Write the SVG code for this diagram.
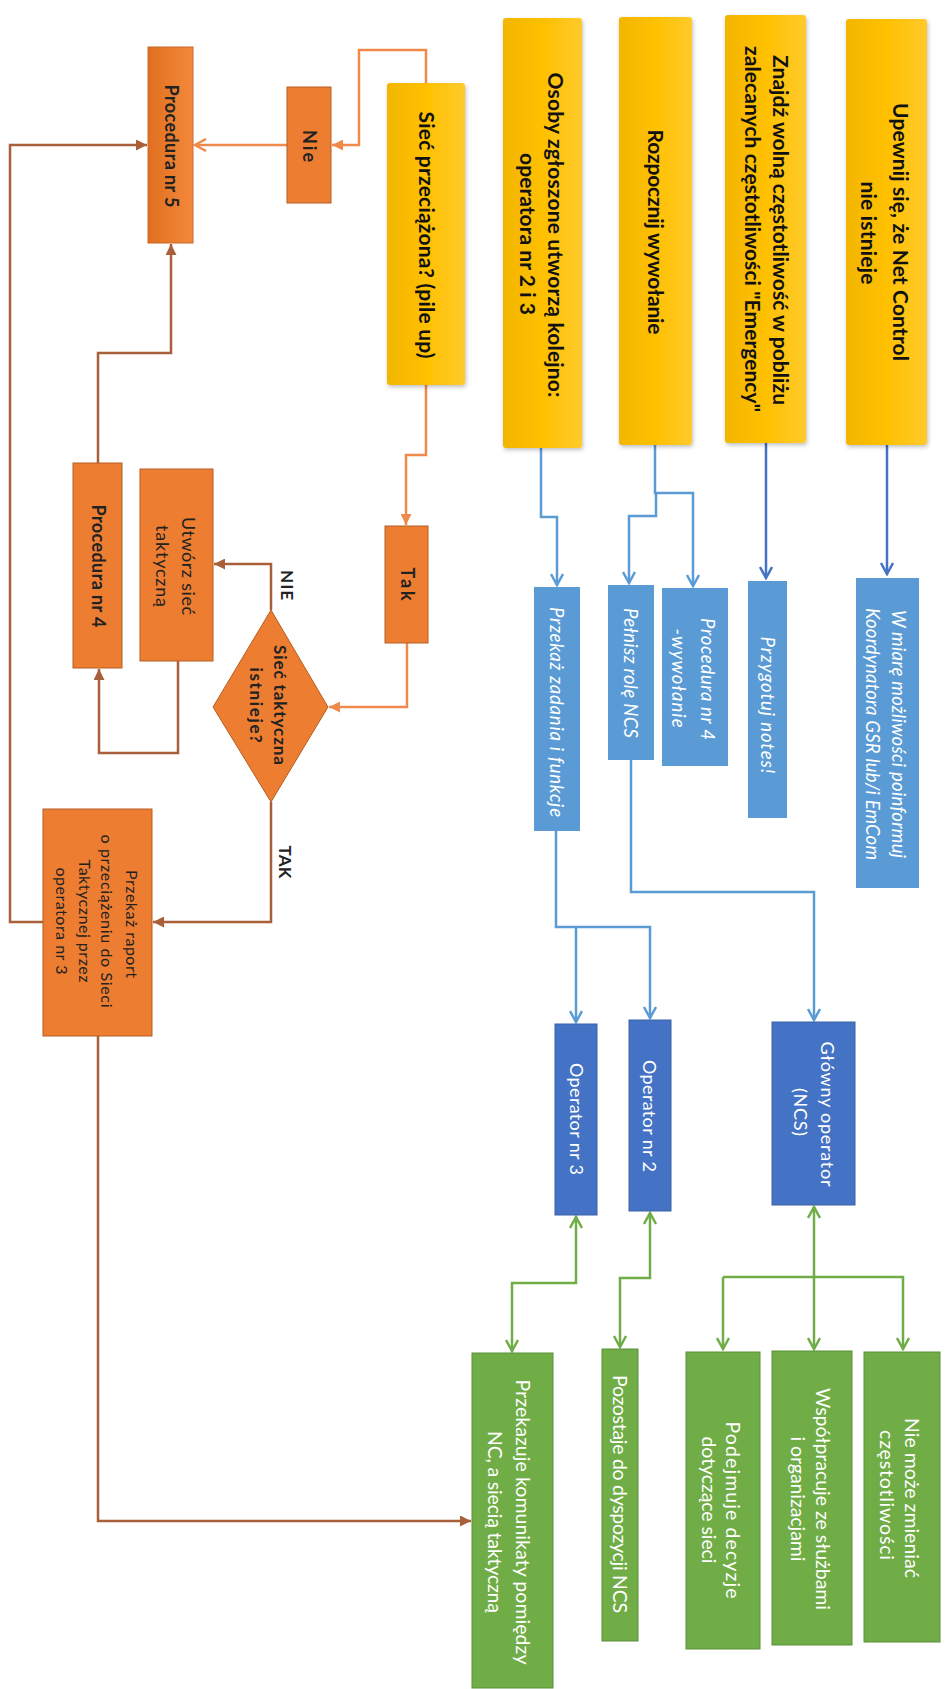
<svg xmlns="http://www.w3.org/2000/svg" width="945" height="1689" viewBox="0 0 945 1689">
<style>
.t{font-family:Lato,"Open Sans","Liberation Sans",sans-serif;text-anchor:middle}
.yb{font-weight:bold;font-size:21px;fill:#111}
.it{font-style:italic;font-size:18.5px;fill:#fff}
.wt{font-size:18px;fill:#fff}
.gt{font-size:19.5px;fill:#fff}
.ob{font-weight:bold;font-size:18px;fill:#222}
.or{font-size:18px;fill:#222}
.sm{font-size:16px;fill:#222}
.lb{font-weight:bold;font-size:17px;fill:#222}
.yel{fill:url(#gy);filter:url(#sh)}
.lblue{fill:#5B9BD5}
.dblue{fill:#4472C4;stroke:#3A62A8;stroke-width:1}
.grn{fill:#70AD47;stroke:#5A8F38;stroke-width:1}
.org{fill:#ED7D31;stroke:#B45F24;stroke-width:1}
.c{fill:none;stroke-width:2.5}
.nv{stroke:#4472C4;marker-end:url(#an)}
.lt{stroke:#5B9BD5;marker-end:url(#al)}
.gr{stroke:#70AD47;marker-end:url(#ag)}
.gb{stroke:#70AD47;marker-start:url(#ag);marker-end:url(#ag)}
.oo{stroke:#F08A4B}
.br{stroke:#A9603A}
</style>
<defs>
<linearGradient id="gy" x1="0" y1="0" x2="1" y2="0">
<stop offset="0" stop-color="#F2B600"/><stop offset="0.5" stop-color="#FFC000"/><stop offset="1" stop-color="#FFCA2C"/>
</linearGradient>
<linearGradient id="go" x1="0" y1="0" x2="1" y2="0">
<stop offset="0" stop-color="#E0701F"/><stop offset="1" stop-color="#F4883C"/>
</linearGradient>
<filter id="sh" x="-10%" y="-5%" width="125%" height="112%">
<feDropShadow dx="1" dy="2" stdDeviation="2" flood-color="#000" flood-opacity="0.25"/>
</filter>
<marker id="an" viewBox="0 0 14 14" refX="12" refY="7" markerWidth="14" markerHeight="14" markerUnits="userSpaceOnUse" orient="auto-start-reverse"><path d="M1,1 L12,7 L1,13" fill="none" stroke="#4472C4" stroke-width="2.5"/></marker>
<marker id="al" viewBox="0 0 14 14" refX="12" refY="7" markerWidth="14" markerHeight="14" markerUnits="userSpaceOnUse" orient="auto-start-reverse"><path d="M1,1 L12,7 L1,13" fill="none" stroke="#5B9BD5" stroke-width="2.5"/></marker>
<marker id="ag" viewBox="0 0 14 14" refX="12" refY="7" markerWidth="14" markerHeight="14" markerUnits="userSpaceOnUse" orient="auto-start-reverse"><path d="M1,1 L12,7 L1,13" fill="none" stroke="#70AD47" stroke-width="2.5"/></marker>
<marker id="ao" viewBox="0 0 14 14" refX="12" refY="7" markerWidth="14" markerHeight="14" markerUnits="userSpaceOnUse" orient="auto"><path d="M1,1 L12,7 L1,13" fill="none" stroke="#F08A4B" stroke-width="2.5"/></marker>
<marker id="to" viewBox="0 0 10 10" refX="10" refY="5" markerWidth="11" markerHeight="11" markerUnits="userSpaceOnUse" orient="auto"><path d="M0,0 L10,5 L0,10 z" fill="#F08A4B"/></marker>
<marker id="tb" viewBox="0 0 10 10" refX="10" refY="5" markerWidth="11" markerHeight="11" markerUnits="userSpaceOnUse" orient="auto"><path d="M0,0 L10,5 L0,10 z" fill="#A9603A"/></marker>
</defs>
<rect width="945" height="1689" fill="#fff"/>

<g id="connectors">
<path class="c nv" d="M887,445 V574"/>
<path class="c nv" d="M766,443 V578"/>
<path class="c lt" d="M541,448 V517 H557 V585"/>
<path class="c lt" d="M655,445 V493 H693 V586"/>
<path class="c lt" d="M656,493 V516 H629 V583"/>
<path class="c lt" d="M631,760 V892 H814 V1020"/>
<path class="c lt" d="M556,831 V927 H650 V1018"/>
<path class="c lt" d="M576,927 V1022"/>
<path class="c gb" d="M814,1207 V1349"/>
<path class="c gr" d="M723,1277 H903 V1349"/>
<path class="c gr" d="M723,1277 V1349"/>
<path class="c gb" d="M650,1213 V1278 H620 V1347"/>
<path class="c gb" d="M576,1217 V1283 H512 V1351"/>
<path class="c oo" marker-end="url(#to)" d="M426,83 V50 H359 V145 H332"/>
<path class="c oo" marker-end="url(#ao)" d="M287,145 H195"/>
<path class="c oo" marker-end="url(#to)" d="M426,385 V455 H406 V525"/>
<path class="c oo" marker-end="url(#to)" d="M407,643 V707 H329"/>
<path class="c br" marker-end="url(#tb)" d="M271,610 V564 H214"/>
<path class="c br" marker-end="url(#tb)" d="M178,661 V753 H99 V669"/>
<path class="c br" marker-end="url(#tb)" d="M98,463 V353 H171 V244"/>
<path class="c br" marker-end="url(#tb)" d="M271,802 V922 H153"/>
<path class="c br" marker-end="url(#tb)" d="M43,922 H10 V145 H147"/>
<path class="c br" marker-end="url(#tb)" d="M98,1036 V1521 H471"/>
</g>

<g id="n-upewnij"><rect class="yel" x="846" y="19" width="81" height="426" rx="3"/>
<text class="t yb" transform="translate(900,232) rotate(90)" x="0" y="7.35" textLength="258">Upewnij się, że Net Control</text>
<text class="t yb" transform="translate(868,233) rotate(90)" x="0" y="7.35" textLength="103">nie istnieje</text></g>
<g id="n-znajdz"><rect class="yel" x="725" y="15" width="81" height="428" rx="3"/>
<text class="t yb" transform="translate(780,230) rotate(90)" x="0" y="7.35" textLength="350">Znajdź wolną częstotliwość w pobliżu</text>
<text class="t yb" transform="translate(752,229) rotate(90)" x="0" y="7.35" textLength="366">zalecanych częstotliwości "Emergency"</text></g>
<g id="n-rozpocznij"><rect class="yel" x="619" y="17" width="73" height="428" rx="3"/>
<text class="t yb" transform="translate(655,232) rotate(90)" x="0" y="7.35" textLength="205">Rozpocznij wywołanie</text></g>
<g id="n-osoby"><rect class="yel" x="503" y="18" width="79" height="430" rx="3"/>
<text class="t yb" transform="translate(555,235) rotate(90)" x="0" y="7.35" textLength="325">Osoby zgłoszone utworzą kolejno:</text>
<text class="t yb" transform="translate(527,234) rotate(90)" x="0" y="7.35" textLength="162">operatora nr 2 i 3</text></g>
<g id="n-siec"><rect class="yel" x="387" y="83" width="78" height="302" rx="3"/>
<text class="t yb" transform="translate(426,235) rotate(90)" x="0" y="7.35" textLength="247">Sieć przeciążona? (pile up)</text></g>

<g id="n-wmiare"><rect class="lblue" x="856" y="578" width="63" height="310"/>
<text class="t it" transform="translate(898,734) rotate(90)" x="0" y="6.5" textLength="248">W miarę możliwości poinformuj</text>
<text class="t it" transform="translate(872,734) rotate(90)" x="0" y="6.5" textLength="252">Koordynatora GSR lub/i EmCom</text></g>
<g id="n-notes"><rect class="lblue" x="748" y="581" width="39" height="237"/>
<text class="t it" transform="translate(767,705) rotate(90)" x="0" y="6.5" textLength="137">Przygotuj notes!</text></g>
<g id="n-proc4w"><rect class="lblue" x="662" y="588" width="66" height="178"/>
<text class="t it" transform="translate(707,679) rotate(90)" x="0" y="6.5" textLength="122">Procedura nr 4</text>
<text class="t it" transform="translate(678,678) rotate(90)" x="0" y="6.5" textLength="99">-wywołanie</text></g>
<g id="n-pelnisz"><rect class="lblue" x="608" y="585" width="46" height="175"/>
<text class="t it" transform="translate(630,673) rotate(90)" x="0" y="6.5" textLength="130">Pełnisz rolę NCS</text></g>
<g id="n-przekazzad"><rect class="lblue" x="534" y="587" width="46" height="244"/>
<text class="t it" transform="translate(556,712) rotate(90)" x="0" y="6.5" textLength="210">Przekaż zadania i funkcje</text></g>

<g id="n-glowny"><rect class="dblue" x="772" y="1022" width="83" height="183"/>
<text class="t wt" transform="translate(827,1114) rotate(90)" x="0" y="6.3" textLength="145">Główny operator</text>
<text class="t wt" transform="translate(800,1112) rotate(90)" x="0" y="6.3" textLength="48">(NCS)</text></g>
<g id="n-op2"><rect class="dblue" x="629" y="1020" width="42" height="191"/>
<text class="t wt" transform="translate(649,1116) rotate(90)" x="0" y="6.3" textLength="112">Operator nr 2</text></g>
<g id="n-op3"><rect class="dblue" x="555" y="1024" width="42" height="191"/>
<text class="t wt" transform="translate(576,1119) rotate(90)" x="0" y="6.3" textLength="112">Operator nr 3</text></g>

<g id="n-niemoze"><rect class="grn" x="864" y="1352" width="76" height="290"/>
<text class="t gt" transform="translate(912,1498) rotate(90)" x="0" y="6.8" textLength="160">Nie może zmieniać</text>
<text class="t gt" transform="translate(887,1495) rotate(90)" x="0" y="6.8" textLength="130">częstotliwości</text></g>
<g id="n-wspolpracuje"><rect class="grn" x="772" y="1351" width="80" height="294"/>
<text class="t gt" transform="translate(823,1499) rotate(90)" x="0" y="6.8" textLength="222">Współpracuje ze służbami</text>
<text class="t gt" transform="translate(798,1499) rotate(90)" x="0" y="6.8" textLength="125">i organizacjami</text></g>
<g id="n-podejmuje"><rect class="grn" x="686" y="1352" width="74" height="297"/>
<text class="t gt" transform="translate(733,1510) rotate(90)" x="0" y="6.8" textLength="177">Podejmuje decyzje</text>
<text class="t gt" transform="translate(709,1500) rotate(90)" x="0" y="6.8" textLength="127">dotyczące sieci</text></g>
<g id="n-pozostaje"><rect class="grn" x="602" y="1349" width="36" height="292"/>
<text class="t gt" transform="translate(620,1494) rotate(90)" x="0" y="6.8" textLength="238">Pozostaje do dyspozycji NCS</text></g>
<g id="n-przekazuje"><rect class="grn" x="472" y="1353" width="81" height="335"/>
<text class="t gt" transform="translate(523,1522) rotate(90)" x="0" y="6.8" textLength="285">Przekazuje komunikaty pomiędzy</text>
<text class="t gt" transform="translate(495,1522) rotate(90)" x="0" y="6.8" textLength="182">NC, a siecią taktyczną</text></g>

<g id="n-proc5"><rect x="148" y="47" width="45" height="196" fill="url(#go)" stroke="#C8692A" stroke-width="1"/>
<text class="t ob" transform="translate(171,146) rotate(90)" x="0" y="6.3" textLength="123">Procedura nr 5</text></g>
<g id="n-nie"><rect class="org" x="287" y="87" width="44" height="116"/>
<text class="t ob" transform="translate(309,146) rotate(90)" x="0" y="6.3" textLength="32">Nie</text></g>
<g id="n-tak"><rect class="org" x="385" y="526" width="43" height="117"/>
<text class="t ob" transform="translate(407,584) rotate(90)" x="0" y="6.3" textLength="33">Tak</text></g>
<g id="n-diamond"><polygon class="org" points="271,610 328,707 271,802 213,707"/>
<text class="t lb" transform="translate(280,705) rotate(90)" x="0" y="6" textLength="120">Sieć taktyczna</text>
<text class="t lb" transform="translate(256,705) rotate(90)" x="0" y="6" textLength="75">istnieje?</text></g>
<g id="n-utworz"><rect class="org" x="140" y="469" width="73" height="192"/>
<text class="t or" transform="translate(188,566) rotate(90)" x="0" y="6.3" textLength="98">Utwórz sieć</text>
<text class="t or" transform="translate(162,566) rotate(90)" x="0" y="6.3" textLength="82">taktyczną</text></g>
<g id="n-proc4"><rect class="org" x="73" y="463" width="49" height="205"/>
<text class="t ob" transform="translate(98,566) rotate(90)" x="0" y="6.3" textLength="123">Procedura nr 4</text></g>
<g id="n-raport"><rect class="org" x="43" y="809" width="109" height="227"/>
<text class="t sm" transform="translate(132,924) rotate(90)" x="0" y="5.6" textLength="108">Przekaż raport</text>
<text class="t sm" transform="translate(107,921) rotate(90)" x="0" y="5.6" textLength="173">o przeciążeniu do Sieci</text>
<text class="t sm" transform="translate(85,921) rotate(90)" x="0" y="5.6" textLength="123">Taktycznej przez</text>
<text class="t sm" transform="translate(62,921) rotate(90)" x="0" y="5.6" textLength="107">operatora nr 3</text></g>

<g id="labels">
<text class="t lb" transform="translate(287,585) rotate(90)" x="0" y="6" textLength="30">NIE</text>
<text class="t lb" transform="translate(285,862) rotate(90)" x="0" y="6" textLength="33">TAK</text>
</g>
</svg>
